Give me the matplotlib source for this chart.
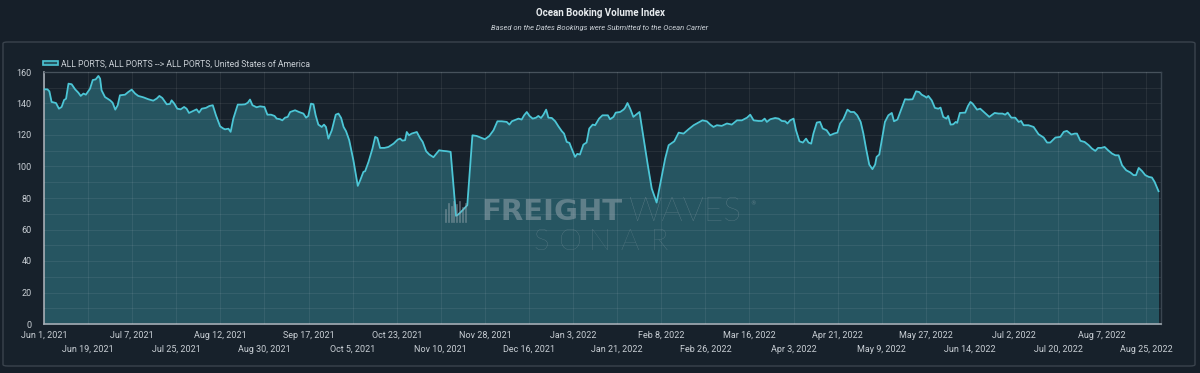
import datetime as dt
import matplotlib
matplotlib.use("Agg")
import matplotlib.pyplot as plt
from matplotlib.patches import FancyBboxPatch, Patch
from matplotlib.lines import Line2D
from matplotlib.ticker import MultipleLocator, FixedLocator, NullFormatter
import matplotlib.dates as mdates

title = "Ocean Booking Volume Index"
subtitle = "Based on the Dates Bookings were Submitted to the Ocean Carrier"
series_name = "ALL PORTS, ALL PORTS --> ALL PORTS, United States of America"
start_date = dt.datetime(2021, 6, 1)
tick_step_days = 18
n_ticks = 26
span_days = 456

# days since Jun 1, 2021 and index value
days = [
    0, 1.4, 2.2, 3.1, 4.9, 6.1, 7.2, 8.2, 9, 10, 11.3, 12.7, 14, 15, 16.1, 17.1,
    18.8, 19.9, 21.1, 22.2, 22.9, 23.5, 24.9, 27, 28, 29.1, 30.1, 31, 33.1, 34.4,
    35.8, 37.2, 38.5, 40.6, 42.6, 44.6, 46, 47.1, 48.3, 50.1, 51.4, 52.1, 53.2,
    54.4, 55.8, 57.2, 58.2, 59.2, 61, 62.3, 63.3, 64.4, 66.1, 67.5, 68.9, 70.2,
    71.9, 73.2, 73.9, 75.3, 76.2, 77.3, 79.1, 80.7, 82.1, 83.2, 84.1, 85.1, 86.8,
    88.2, 90, 91.2, 92.7, 94.1, 95, 96.4, 97.3, 98.4, 99.5, 100.5, 102.5, 104.1,
    105.9, 107, 107.9, 109, 110, 110.9, 112, 113.4, 114.3, 115.1, 116.1, 117.5,
    119.1, 120.2, 121.3, 122.3, 123.3, 124.6, 126.3, 128.1, 129.1, 130.4, 131.1,
    132.5, 134.1, 135.2, 136.1, 137.2, 139, 140.6, 142.7, 144.4, 145.4, 146.3,
    147.4, 148.1, 149, 150.1, 152.2, 153.5, 154.6, 156, 157.3, 159, 160, 161.3,
    163, 164.4, 166, 166.8, 167.8, 168.2, 169.1, 170.5, 171.8, 172.8, 173.9,
    174.9, 176.6, 178.7, 180, 181.8, 183.5, 185.1, 186.9, 188.9, 190, 191, 192.7,
    193.7, 195, 196, 197.1, 198.2, 199.5, 200.9, 201.8, 202.9, 203.9, 205, 205.9,
    207.3, 208.7, 210, 211.4, 212.3, 213.4, 214.5, 215.4, 216.8, 217.7, 218.8,
    220.2, 221.5, 222.6, 224, 225, 226.6, 228, 230.2, 231.1, 232.5, 233.4, 235.2,
    236.6, 237.2, 238.2, 239.3, 240.6, 242, 243.1, 244.7, 246.5, 248.1, 250.1,
    252, 253.6, 255, 257.3, 259.1, 261.1, 263.1, 265.2, 267.2, 268.8, 270.6, 272,
    273.3, 274.7, 276.7, 278.8, 280.8, 282.9, 284.9, 287, 288.3, 289.7, 291.7,
    293.1, 294.2, 295.1, 296.5, 298.5, 299.9, 301.2, 302.6, 303.5, 304.6, 306,
    307, 308.4, 309.8, 311.1, 312.1, 313.2, 314.1, 315.5, 316.8, 317.9, 319.5,
    320.9, 322.5, 323.9, 325, 326.3, 328, 329.3, 330.7, 332, 333.4, 334.5, 335.6,
    336.9, 338.2, 339.3, 339.9, 341, 342, 343.3, 344.7, 346.1, 347, 348.4, 349.8,
    351.5, 352.9, 354.6, 356, 357.3, 358.3, 359.6, 360.3, 361, 362.4, 363.7,
    365.1, 366, 367.1, 368.4, 369.1, 370.1, 371.2, 372.2, 372.8, 373.9, 376.1,
    377.2, 378.2, 379.1, 380.9, 382.2, 384, 385.9, 388.1, 389.7, 391.3, 392.4,
    393.4, 394.9, 396.5, 397.9, 398.9, 399.9, 401.9, 404, 406, 408.1, 409.5,
    410.8, 412.9, 414.9, 416.3, 417.6, 419.4, 420.8, 421.7, 423.1, 424.8, 426.5,
    427.8, 429.2, 430.3, 431.6, 433, 434.4, 436, 437.4, 438.7, 440.1, 441.8,
    443.5, 444.8, 445.8, 446.9, 448.2, 449.6, 451, 452.3, 453.4, 455,
]
values = [
    149, 149, 147.7, 141, 140.3, 136.7, 137.8, 142.2, 143, 152.6, 152.2, 149,
    146.9, 144.8, 146.3, 145.6, 149.4, 154.9, 155.3, 157.5, 155.8, 148.4, 144.1,
    142, 140.5, 136.1, 138.9, 145.2, 145.6, 147.3, 148.8, 146.3, 144.8, 143.9,
    142.7, 141.8, 143.1, 144.8, 143.5, 139.5, 139.7, 142, 139.9, 136.7, 136.3,
    137.8, 136.7, 134, 135.3, 136.3, 134.2, 136.7, 137.2, 138.4, 138.9, 132.5,
    125.5, 124.1, 123.6, 124, 122, 130.4, 139.3, 139.3, 139.5, 140.5, 142.5,
    138.9, 137.6, 138.2, 137.8, 132.9, 132.9, 132.1, 130.4, 130, 129.3, 131,
    131.5, 134.6, 135.7, 134.6, 133.6, 131, 132.1, 139.9, 139.5, 132.5, 126.6,
    125.1, 126.6, 125.1, 117.7, 123, 132.9, 133.6, 130.8, 125.1, 122.4, 116.7,
    104, 87.7, 91.3, 96.6, 97, 103, 111.4, 118.8, 118.1, 111.8, 111.8, 112.4,
    114.5, 117.1, 117.7, 116.4, 116.7, 121.9, 119.8, 120.9, 121.9, 118.1, 115.6,
    109.7, 107.6, 105.9, 107.8, 110.3, 109.9, 109.7, 109.3, 94.5, 76.5, 68.7,
    69.5, 71.6, 73.7, 75.4, 98.7, 119.8, 119.4, 118.1, 117.3, 119.4, 123, 128.7,
    128.7, 128.3, 126.6, 128.7, 129.8, 130.4, 129.8, 132.5, 134.6, 132.1, 130.4,
    131, 132.1, 130.8, 132.9, 136.1, 131, 130.8, 128.7, 125.5, 122.4, 120.9,
    115.6, 115, 111.4, 106.1, 108, 107.6, 113.9, 115.2, 124.1, 126.6, 126.2,
    130.4, 132.5, 132.5, 130, 131.5, 134.2, 134.6, 136.1, 137.2, 140.3, 136.7,
    131.5, 133.2, 134.6, 118.8, 100.8, 86, 77.1, 92.4, 105.1, 113.5, 116, 121.5,
    120.9, 123.6, 126.2, 127.9, 129.3, 128.7, 126.6, 125.1, 126.2, 125.8, 127.3,
    126.6, 129.3, 129.3, 131, 132.9, 129.3, 128.9, 128.9, 130.4, 128.3, 130,
    130.8, 130.4, 128.9, 128.7, 127.3, 129.3, 130.4, 123, 116, 115.2, 117.7,
    115.2, 114.5, 120.9, 127.9, 128.3, 124.1, 123, 119.8, 120.9, 121.5, 127.3,
    130, 136.1, 134.6, 134.6, 132.5, 128.3, 120.9, 111.4, 101.2, 98.3, 101.2,
    106.1, 107.6, 116.7, 128.3, 132.5, 134, 128.7, 129.8, 135.7, 142.7, 142.5,
    142.7, 147.7, 147.3, 145.6, 144.5, 143.7, 144.8, 142, 137.2, 136.7, 137.4,
    131.5, 130.4, 132.1, 126.6, 126.8, 128.3, 127.7, 134, 134.2, 138.4, 141,
    139.9, 136.1, 136.7, 134.2, 131.5, 134, 133.6, 133.6, 132.9, 134.2, 131, 131,
    128.3, 128.9, 126.2, 126.2, 125.1, 120.5, 118.4, 115.2, 115.2, 118.4, 118.8,
    122, 122.6, 120.3, 120.9, 120.9, 116.3, 115.6, 113.5, 111.4, 109.9, 111.8,
    111.8, 112.4, 110.3, 108.2, 107.1, 107.1, 100.8, 97.6, 96.2, 94.5, 94.5,
    99.1, 97.2, 94.5, 93.4, 93, 90.2, 84.3,
]

bg = "#161f29"
line_color = "#4cc6d6"
fill_color = "#265561"
text_color = "#c9cfd5"

plt.rcParams["font.family"] = ["Roboto", "DejaVu Sans"]

fig = plt.figure(figsize=(12, 3.73), dpi=100, facecolor=bg)

# outer panel, kept behind the axes
panel = FancyBboxPatch((3 / 1200, 7 / 373), 1192 / 1200, 324 / 373,
                       boxstyle="round,pad=0,rounding_size=0.004",
                       transform=fig.transFigure, facecolor="#17212b",
                       edgecolor="#3a434d", linewidth=1.0, zorder=-5)
fig.patches.append(panel)

fig.text(0.5, 1 - 13 / 373, title, ha="center", va="center", color="#e8ecef",
         fontsize=7, fontweight="bold")
fig.text(0.5, 1 - 28 / 373, subtitle, ha="center", va="center", color=text_color,
         fontsize=5.5, style="italic")

ax = fig.add_axes([44 / 1200, 49 / 373, 1117 / 1200, 252 / 373])
ax.set_facecolor("#17212b")

x = [start_date + dt.timedelta(days=d) for d in days]
ax.fill_between(x, values, 0, color=fill_color, linewidth=0, zorder=1)
ax.plot(x, values, color=line_color, linewidth=1.3, zorder=3)

ax.set_xlim(start_date, start_date + dt.timedelta(days=span_days))
ax.set_ylim(0, 160)

ticks = [start_date + dt.timedelta(days=tick_step_days * i) for i in range(n_ticks)]
labels = [f"{t:%b} {t.day}, {t.year}" for t in ticks]
ax.xaxis.set_major_locator(FixedLocator(mdates.date2num(ticks[::2])))
ax.xaxis.set_minor_locator(FixedLocator(mdates.date2num(ticks[1::2])))
ax.set_xticklabels(labels[::2])
ax.set_xticklabels(labels[1::2], minor=True)
ax.tick_params(axis="x", which="major", length=0, pad=5, labelsize=6.5,
               labelcolor=text_color)
ax.tick_params(axis="x", which="minor", length=0, pad=15, labelsize=6.5,
               labelcolor=text_color)

ax.yaxis.set_major_locator(MultipleLocator(20))
ax.yaxis.set_minor_locator(MultipleLocator(10))
ax.yaxis.set_minor_formatter(NullFormatter())
ax.tick_params(axis="y", which="both", length=0, pad=9, labelsize=6.5,
               labelcolor=text_color)

ax.set_axisbelow(False)
ax.grid(which="both", color="white", alpha=0.07, linewidth=0.8, zorder=2)

for side in ["left", "bottom"]:
    ax.spines[side].set_color("#a3abb3")
    ax.spines[side].set_linewidth(1.2)
for side in ["top", "right"]:
    ax.spines[side].set_color("#3a4550")
    ax.spines[side].set_linewidth(1.0)

handle = Patch(facecolor=fill_color, edgecolor=line_color, linewidth=1.2)
leg = ax.legend([handle], [series_name], loc="lower left",
                bbox_to_anchor=(-0.001, 1.015), frameon=False, fontsize=6.2,
                handlelength=1.7, handleheight=0.45, handletextpad=0.4,
                borderaxespad=0, borderpad=0)
for t in leg.get_texts():
    t.set_color(text_color)

# watermark
wm = "#9aa9b2"
wm_alpha = 0.5
fig.text(623 / 1200, 1 - 212 / 373, "FREIGHT", ha="right", va="center",
         color=wm, alpha=wm_alpha, fontsize=21, fontweight="heavy",
         family="DejaVu Sans", zorder=5)
fig.text(629 / 1200, 1 - 212 / 373, "WAVES", ha="left", va="center",
         color=wm, alpha=wm_alpha, fontsize=24, fontweight="light",
         family="Lato", zorder=5)
fig.text(750 / 1200, 1 - 204 / 373, "®", ha="left", va="center",
         color=wm, alpha=wm_alpha, fontsize=4, family="DejaVu Sans", zorder=5)
for i, ch in enumerate("SONAR"):
    fig.text((541 + i * 29.5) / 1200, 1 - 242 / 373, ch, ha="center",
             va="center", color=wm, alpha=wm_alpha, fontsize=21,
             fontweight="light", family="Lato", zorder=5)
bar_heights = [0.6, 0.9, 0.75, 1.0, 0.85, 1.0, 0.7, 0.9]
for i, h in enumerate(bar_heights):
    x0 = (446 + i * 2.8) / 1200
    fig.add_artist(Line2D([x0, x0], [1 - 222 / 373, 1 - (222 - 20 * h) / 373],
                          color=wm, alpha=wm_alpha, linewidth=1.2,
                          transform=fig.transFigure, zorder=5))

fig.savefig("out.png", dpi=100, facecolor=bg)
